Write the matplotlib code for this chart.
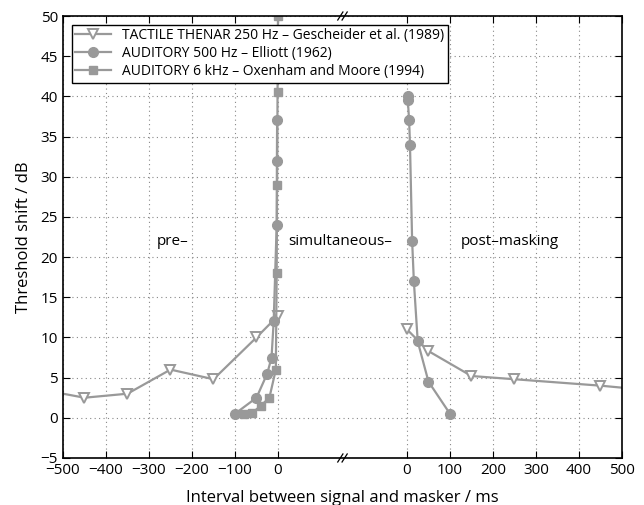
import numpy as np
import matplotlib
matplotlib.use('Agg')
from matplotlib import pyplot as plt

plt.rcParams['font.family'] = ['Open Sans', 'DejaVu Sans']

# broken x axis: right panel (post-masking) values are shifted by OFFSET
OFFSET = 300

# TACTILE THENAR 250 Hz - Gescheider et al. (1989)
tact_pre_x = [-550, -450, -350, -250, -150, -50, 0]
tact_pre_y = [3.5, 2.5, 3.0, 6.0, 4.8, 10.0, 12.7]
tact_post_x = [0, 50, 150, 250, 450, 550]
tact_post_y = [11.0, 8.3, 5.2, 4.8, 4.0, 3.5]

# AUDITORY 500 Hz - Elliott (1962)
aud5_pre_x = [-100, -50, -25, -15, -10, -3, -2.5, -2]
aud5_pre_y = [0.5, 2.5, 5.5, 7.5, 12.0, 24.0, 32.0, 37.0]
aud5_post_x = [2, 2, 5, 7, 12, 16, 25, 50, 100]
aud5_post_y = [40.0, 39.5, 37.0, 34.0, 22.0, 17.0, 9.5, 4.5, 0.5]

# AUDITORY 6 kHz - Oxenham and Moore (1994)
aud6_pre_x = [-80, -60, -40, -20, -5, -3, -2, -1, 0]
aud6_pre_y = [0.5, 0.6, 1.5, 2.5, 6.0, 18.0, 29.0, 40.5, 50.0]

left_ticks = [-500, -400, -300, -200, -100, 0]
right_ticks = [0, 100, 200, 300, 400, 500]

labels = ['TACTILE THENAR 250 Hz \u2013 Gescheider et al. (1989)',
          'AUDITORY 500 Hz \u2013 Elliott (1962)',
          'AUDITORY 6 kHz \u2013 Oxenham and Moore (1994)']

col = '#999999'

fig = plt.figure(figsize=(6.44, 5.05), dpi=100)
ax = fig.add_axes([0.0978, 0.0931, 0.868, 0.8752])

kw = dict(color=col, lw=1.6)
l1, = ax.plot(tact_pre_x, tact_pre_y, marker='v', ms=7.5, mfc='white', mec=col, mew=1.4, **kw)
ax.plot(np.array(tact_post_x) + OFFSET, tact_post_y, marker='v', ms=7.5, mfc='white', mec=col, mew=1.4, **kw)
l2, = ax.plot(aud5_pre_x, aud5_pre_y, marker='o', ms=7, mfc=col, mec=col, **kw)
ax.plot(np.array(aud5_post_x) + OFFSET, aud5_post_y, marker='o', ms=7, mfc=col, mec=col, **kw)
l3, = ax.plot(aud6_pre_x, aud6_pre_y, marker='s', ms=6, mfc=col, mec=col, **kw)

ax.set_xlim(-500, 500 + OFFSET)
ax.set_ylim(-5, 50)
xt = left_ticks + [t + OFFSET for t in right_ticks]
ax.set_xticks(xt)
ax.set_xticklabels([str(t).replace('-', '\u2212') for t in left_ticks + right_ticks])
ax.set_yticks(np.arange(-5, 51, 5))
ax.tick_params(direction='in', top=True, right=True, length=5, labelsize=11, width=0.8)
ax.grid(True, color='#888888', linestyle=(0, (1, 3)), lw=0.8)
for s in ax.spines.values():
    s.set_linewidth(1.2)

ax.set_xlabel('Interval between signal and masker / ms', fontsize=12, labelpad=9)
ax.set_ylabel('Threshold shift / dB', fontsize=12, labelpad=6)

ax.text(-245, 22, 'pre\u2013', fontsize=11, ha='center', va='center')
ax.text(145, 22, 'simultaneous\u2013', fontsize=11, ha='center', va='center')
ax.text(540, 22, 'post\u2013masking', fontsize=11, ha='center', va='center')

# axis-break marks
bx = (0 + OFFSET) / 2.0
for yb in (-5, 50):
    for dx in (-5, 5):
        ax.plot([bx + dx - 6, bx + dx + 6], [yb - 0.5, yb + 0.5], color='black', lw=0.9, clip_on=False)

leg = ax.legend([l1, l2, l3], labels, loc='upper left', fontsize=10, fancybox=False,
                edgecolor='black', framealpha=1, handlelength=2.6, borderpad=0.25,
                labelspacing=0.22, bbox_to_anchor=(0.003, 0.996))
leg.get_frame().set_linewidth(1.0)

fig.savefig('out.png', dpi=100)
